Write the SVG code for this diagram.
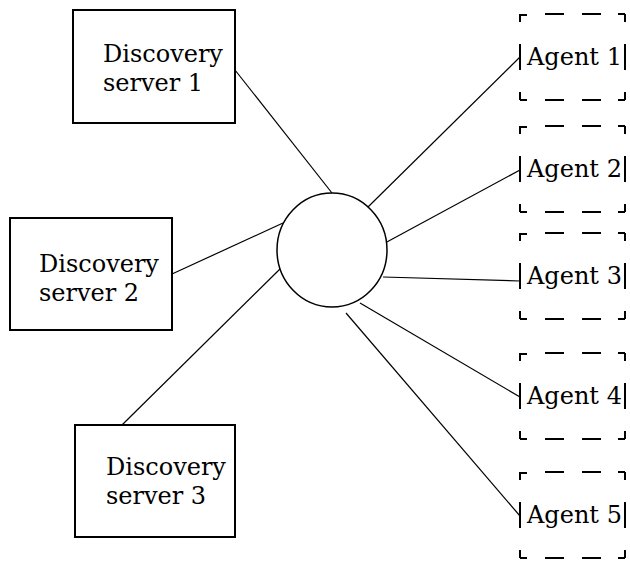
<svg xmlns="http://www.w3.org/2000/svg" width="630" height="562" viewBox="0 0 630 562">
<style>
.box{fill:#fff;stroke:#000;stroke-width:2}
.hub{fill:#fff;stroke:#000;stroke-width:1.5}
.frame{fill:none;stroke:#000;stroke-width:2}
.t{font-family:"DejaVu Serif","Liberation Serif",serif;font-size:24px;fill:#000}
.c line{stroke:#000;stroke-width:1.2}
</style>
<defs>
<path id="agentFrame" class="frame" d="M0,1 h7 M25,0 h19 M62,0 h19 M98,0 h7 M105,0 v8 M105,30 v26 M105,78 v8 M0,86 h7 M25,86 h19 M62,86 h19 M98,86 h7 M0,0 v8 M0,30 v26 M0,78 v8"/>
</defs>
<g id="connectors" class="c">
<line x1="235" y1="70" x2="332" y2="193"/>
<line x1="172" y1="274" x2="283" y2="223"/>
<line x1="122" y1="425" x2="281" y2="268"/>
<line x1="368" y1="207" x2="520" y2="57"/>
<line x1="385" y1="243" x2="520" y2="170"/>
<line x1="383" y1="277" x2="520" y2="281"/>
<line x1="360" y1="303" x2="520" y2="397"/>
<line x1="346" y1="313" x2="520" y2="516"/>
</g>
<g id="hub"><ellipse class="hub" cx="332" cy="250" rx="55" ry="57"/></g>
<g id="ds1"><rect class="box" x="73" y="10" width="162" height="113"/><text class="t" x="103" y="62">Discovery</text><text class="t" x="103" y="91">server 1</text></g>
<g id="ds2"><rect class="box" x="10" y="218" width="162" height="112"/><text class="t" x="39" y="272">Discovery</text><text class="t" x="39" y="301">server 2</text></g>
<g id="ds3"><rect class="box" x="75" y="425" width="160" height="112"/><text class="t" x="106" y="475">Discovery</text><text class="t" x="106" y="504">server 3</text></g>
<g id="agent1"><use href="#agentFrame" x="520" y="14"/><text class="t" x="527" y="65">Agent 1</text></g>
<g id="agent2"><use href="#agentFrame" x="520" y="126"/><text class="t" x="527" y="177">Agent 2</text></g>
<g id="agent3"><use href="#agentFrame" x="520" y="233"/><text class="t" x="527" y="284">Agent 3</text></g>
<g id="agent4"><use href="#agentFrame" x="520" y="353"/><text class="t" x="527" y="404">Agent 4</text></g>
<g id="agent5"><use href="#agentFrame" x="520" y="472"/><text class="t" x="527" y="523">Agent 5</text></g>
</svg>
